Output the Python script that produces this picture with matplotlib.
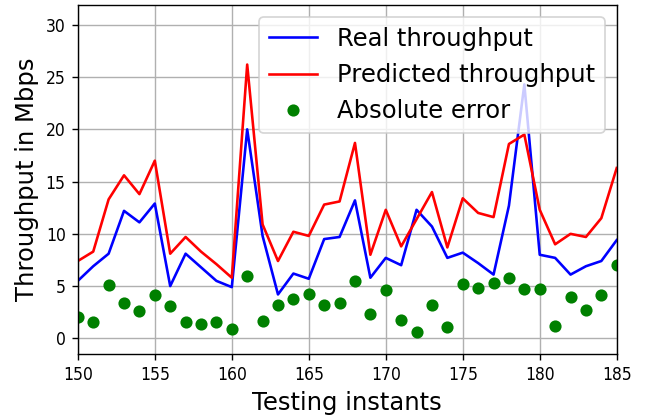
import matplotlib
matplotlib.use("Agg")
import matplotlib.pyplot as plt
import numpy as np

# testing instants on x axis
instants = np.arange(150, 186)

# throughput values in Mbps
real = [5.5, 6.9, 8.1, 12.2, 11.1, 12.9, 5.0, 8.1, 6.8, 5.5,
        4.9, 20.0, 9.8, 4.2, 6.2, 5.7, 9.5, 9.7, 13.2, 5.8,
        7.7, 7.0, 12.3, 10.7, 7.7, 8.2, 7.2, 6.1, 12.7, 24.3,
        8.0, 7.7, 6.1, 6.9, 7.4, 9.4]
predicted = [7.4, 8.3, 13.3, 15.6, 13.8, 17.0, 8.1, 9.7, 8.3, 7.1,
             5.8, 26.2, 10.9, 7.4, 10.2, 9.8, 12.8, 13.1, 18.7, 8.0,
             12.3, 8.8, 11.4, 14.0, 8.7, 13.4, 12.0, 11.6, 18.6, 19.5,
             12.3, 9.0, 10.0, 9.7, 11.5, 16.3]
abs_error = [2.0, 1.6, 5.1, 3.4, 2.6, 4.1, 3.1, 1.6, 1.4, 1.6,
             0.9, 6.0, 1.7, 3.2, 3.8, 4.2, 3.2, 3.4, 5.5, 2.3,
             4.6, 1.8, 0.6, 3.2, 1.1, 5.2, 4.8, 5.3, 5.8, 4.7,
             4.7, 1.2, 4.0, 2.7, 4.1, 7.0]

# rendered at dpi 125 so 654x416 px
fig = plt.figure(figsize=(654 / 125, 416 / 125), dpi=125)
ax = fig.add_axes([0.119, 0.149, 0.824, 0.839])

ax.plot(instants, real, color='blue', label='Real throughput')
ax.plot(instants, predicted, color='red', label='Predicted throughput')
ax.plot(instants, abs_error, 'o', color='green', label='Absolute error')

ax.set_xlim(150, 185)
ax.set_ylim(-1.5, 31.9)
ax.set_xticks(np.arange(150, 186, 5))
ax.set_yticks(np.arange(0, 31, 5))
# tick labels in the reference look narrow
for lbl in ax.get_xticklabels() + ax.get_yticklabels():
    lbl.set_fontstretch('condensed')
ax.grid(True)
ax.set_axisbelow(True)

ax.set_xlabel("Testing instants", fontsize=14)
ax.set_ylabel("Throughput in Mbps", fontsize=14)
ax.legend(loc='upper right', fontsize=14)

fig.savefig("out.png", dpi=125)
